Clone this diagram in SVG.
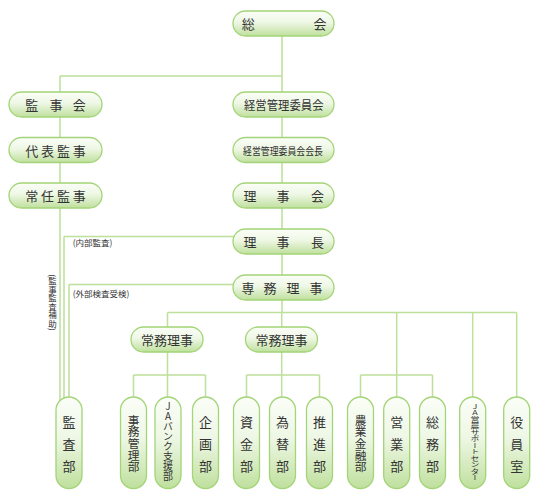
<svg xmlns="http://www.w3.org/2000/svg" width="540" height="499" viewBox="0 0 540 499">
<defs>
<linearGradient id="g" x1="0" y1="0" x2="0" y2="1">
<stop offset="0" stop-color="#fbfef8"/>
<stop offset="0.45" stop-color="#eef7e5"/>
<stop offset="1" stop-color="#bfe09d"/>
</linearGradient>
<style>
.b{fill:url(#g);stroke:#a3d477;stroke-width:1.3}
.c{fill:none;stroke:#bde09a;stroke-width:1.5}
text{font-family:"Noto Sans CJK JP","Noto Sans",sans-serif;fill:#333;dominant-baseline:central}
.t{font-size:13px;text-anchor:middle}
.s{font-size:8.5px}
.v{writing-mode:vertical-rl;text-anchor:middle}
.u{text-orientation:upright}
</style>
</defs>
<rect width="540" height="499" fill="#fff"/>
<g id="connectors" class="c">
<path d="M282 36V275M282 300V312.5M60 76H282M60 76V405"/>
<path d="M64 236.5H234M64 236.5V405M69 284.5H234M69 284.5V405"/>
<path d="M167.5 312.5H516.7M167.5 312.5V405M281.7 312.5V405"/>
<path d="M133.5 375H205.5M133.5 375V405M205.5 375V405"/>
<path d="M246.5 375H319.5M246.5 375V405M319.5 375V405"/>
<path d="M396.7 312.5V405M360.5 375H432.5M360.5 375V405M432.5 375V405"/>
<path d="M472.7 312.5V405M516.7 312.5V405"/>
</g>
<g id="soukai"><rect class="b" x="233" y="11" width="101" height="25" rx="12.5"/><text class="t" x="248.3 320" y="23.5">総会</text></g>
<g id="keiei"><rect class="b" x="233" y="92" width="101" height="25" rx="12.5"/><text x="244" y="104.5" font-size="12.5" textLength="79.5" lengthAdjust="spacingAndGlyphs">経営管理委員会</text></g>
<g id="keiei-kaicho"><rect class="b" x="233" y="137.5" width="101" height="25" rx="12.5"/><text x="243" y="150" font-size="10.5" textLength="80" lengthAdjust="spacingAndGlyphs">経営管理委員会会長</text></g>
<g id="rijikai"><rect class="b" x="233" y="183" width="101" height="25" rx="12.5"/><text class="t" x="250 283 317.5" y="195.5">理事会</text></g>
<g id="rijicho"><rect class="b" x="233" y="229" width="101" height="25" rx="12.5"/><text class="t" x="250 283 317.5" y="241.5">理事長</text></g>
<g id="senmu"><rect class="b" x="233" y="275" width="101" height="25" rx="12.5"/><text class="t" x="248 270 293 316" y="287.5">専務理事</text></g>
<g id="kanjikai"><rect class="b" x="9" y="92" width="93" height="25" rx="12.5"/><text class="t" x="31.7 56 79.3" y="104.5">監事会</text></g>
<g id="daihyo"><rect class="b" x="9" y="137.5" width="93" height="25" rx="12.5"/><text class="t" x="31.7 47.5 63.4 79.3" y="150">代表監事</text></g>
<g id="jonin"><rect class="b" x="9" y="183" width="93" height="25" rx="12.5"/><text class="t" x="31.7 47.5 63.4 79.3" y="195.5">常任監事</text></g>
<g id="jomu1"><rect class="b" x="131" y="327" width="72" height="25" rx="12.5"/><text class="t" x="167" y="339.5" font-size="13.5">常務理事</text></g>
<g id="jomu2"><rect class="b" x="245.5" y="327" width="72" height="25" rx="12.5"/><text class="t" x="281.5" y="339.5" font-size="13.5">常務理事</text></g>
<g id="labels">
<text class="s" x="72.7" y="242">(内部監査)</text>
<text class="s" x="72.7" y="292.5">(外部検査受検)</text>
<text class="s v" x="52.5" y="302.5">(監事監査補助)</text>
</g>
<g id="kansabu"><rect class="b" x="56" y="397" width="26" height="91.5" rx="13"/><text class="t" x="69 69 69" y="421.7 443.5 465.7">監査部</text></g>
<g id="jimukanri"><rect class="b" x="120.5" y="397" width="26" height="91.5" rx="13"/><text class="v" x="133.5" y="443.5" font-size="11.7">事務管理部</text></g>
<g id="jabank"><rect class="b" x="155" y="397" width="26" height="91.5" rx="13"/><text class="v u" x="168" y="441.5" font-size="10">JAバンク支援部</text></g>
<g id="kikaku"><rect class="b" x="192.5" y="397" width="26" height="91.5" rx="13"/><text class="t" x="205.5 205.5 205.5" y="421.7 443.5 465.7">企画部</text></g>
<g id="shikin"><rect class="b" x="233.5" y="397" width="26" height="91.5" rx="13"/><text class="t" x="246.5 246.5 246.5" y="421.7 443.5 465.7">資金部</text></g>
<g id="kawase"><rect class="b" x="269.5" y="397" width="26" height="91.5" rx="13"/><text class="t" x="282.5 282.5 282.5" y="421.7 443.5 465.7">為替部</text></g>
<g id="suishin"><rect class="b" x="306.5" y="397" width="26" height="91.5" rx="13"/><text class="t" x="319.5 319.5 319.5" y="421.7 443.5 465.7">推進部</text></g>
<g id="nogyokinyu"><rect class="b" x="347.5" y="397" width="26" height="91.5" rx="13"/><text class="v" x="360.5" y="443.5" font-size="11.7">農業金融部</text></g>
<g id="eigyo"><rect class="b" x="383.7" y="397" width="26" height="91.5" rx="13"/><text class="t" x="396.7 396.7 396.7" y="421.7 443.5 465.7">営業部</text></g>
<g id="somu"><rect class="b" x="419.5" y="397" width="26" height="91.5" rx="13"/><text class="t" x="432.5 432.5 432.5" y="421.7 443.5 465.7">総務部</text></g>
<g id="support"><rect class="b" x="459.7" y="397" width="26" height="91.5" rx="13"/><text class="v u" font-size="9" transform="translate(475 442) scale(1 0.72)" x="0" y="0">JA営農サポートセンター</text></g>
<g id="yakuin"><rect class="b" x="503.7" y="397" width="26" height="91.5" rx="13"/><text class="t" x="516.7 516.7 516.7" y="421.7 443.5 465.7">役員室</text></g>
</svg>
